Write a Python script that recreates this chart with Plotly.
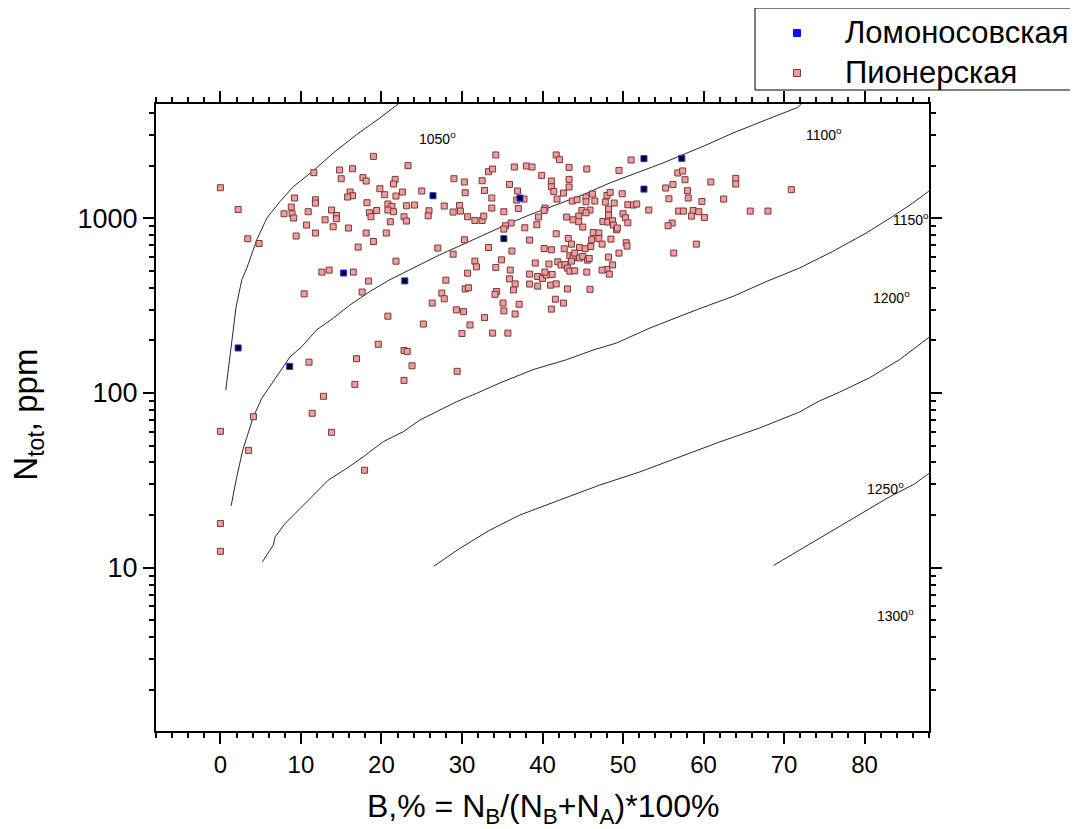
import numpy as np
import plotly.graph_objects as go

# ---------------- data ----------------
pink_x = [0.0, 2.2, 3.4, 4.8, 0.0, 4.1, 3.5, 0.0, 0.0, 10.4, 11.0, 12.8, 11.4, 13.8, 17.9, 16.7, 16.9, 19.6, 17.6, 18.4,
          20.8, 22.8, 23.2, 23.8, 22.8, 25.2, 29.4, 19.0, 23.3, 14.8, 16.4, 11.6, 15.0, 17.7, 18.1, 21.7, 21.5, 19.8, 16.1, 16.4,
          15.8, 20.4, 22.6, 21.8, 25.0, 29.0, 30.3, 32.5, 33.3, 30.4, 32.8, 9.2, 11.8, 11.8, 18.2, 20.8, 21.3, 23.1, 24.1, 27.8,
          29.7, 8.8, 13.8, 10.9, 7.9, 8.9, 9.1, 14.4, 14.4, 13.0, 18.5, 18.7, 19.4, 20.8, 21.5, 22.8, 23.1, 21.1, 25.9, 25.8,
          28.9, 29.8, 30.7, 31.6, 32.5, 32.7, 10.7, 14.0, 15.9, 9.4, 11.8, 18.1, 20.6, 19.0, 17.1, 30.3, 27.0, 33.3, 28.9, 21.8,
          31.6, 31.8, 12.6, 13.5, 16.5, 30.7, 28.0, 30.4, 30.8, 27.5, 27.8, 26.3, 29.3, 30.2, 34.2, 41.7, 42.1, 36.5, 38.0, 38.7,
          43.3, 45.5, 33.8, 51.0, 49.5, 39.9, 41.1, 43.3, 35.9, 41.1, 43.3, 36.9, 41.4, 42.6, 56.8, 57.4, 57.7, 56.2, 55.3, 58.0,
          60.9, 64.0, 64.0, 33.7, 36.8, 37.7, 37.0, 33.7, 35.2, 40.3, 40.2, 41.8, 43.7, 44.3, 45.4, 45.4, 46.2, 46.5, 48.0, 48.4,
          47.8, 48.9, 49.9, 48.2, 50.6, 51.3, 51.7, 55.7, 58.1, 59.8, 62.5, 44.9, 45.9, 45.4, 44.5, 43.0, 43.8, 48.2, 47.5, 48.1,
          48.7, 48.8, 49.2, 49.3, 50.0, 50.3, 50.6, 53.2, 56.9, 57.5, 58.7, 59.4, 58.5, 60.1, 65.8, 68.0, 56.1, 55.6, 39.5, 37.8,
          39.3, 36.1, 35.4, 35.2, 44.5, 45.0, 41.7, 43.2, 46.3, 47.0, 47.0, 46.1, 48.5, 38.4, 43.6, 40.2, 41.1, 42.7, 44.6, 45.3,
          46.0, 47.4, 50.4, 50.5, 49.5, 59.1, 56.3, 36.2, 34.9, 34.2, 36.0, 35.9, 36.6, 34.3, 34.1, 36.4, 35.1, 37.1, 39.1, 40.8,
          41.9, 42.3, 42.8, 43.4, 43.8, 44.0, 43.6, 43.1, 43.4, 44.0, 44.6, 45.0, 45.6, 45.8, 45.5, 48.2, 48.7, 48.0, 47.4, 48.3,
          38.4, 39.4, 40.0, 40.5, 41.2, 40.3, 38.4, 39.4, 41.0, 41.7, 43.1, 45.9, 41.6, 42.6, 41.1, 70.9, 35.2, 36.6, 32.8, 31.0,
          30.0, 33.8, 35.7]
pink_y = [1495, 1123, 763, 717, 60.3, 73.1, 46.9, 17.9, 12.4, 369, 150, 95.7, 76.5, 59.5, 36.1, 112, 157, 190, 378, 437,
          275, 175, 173, 143, 118, 248, 133, 2261, 2000, 1889, 1921, 1823, 1684, 1707, 1634, 1669, 1570, 1476, 1413, 1346,
          1323, 1364, 1413, 1340, 1432, 1684, 1613, 1640, 1847, 1400, 1443, 1306, 1276, 1222, 1227, 1206, 1169, 1179, 1190, 1175,
          1184, 1159, 1114, 1090, 1061, 1061, 1003, 1037, 993, 980, 1075, 1020, 1108, 1114, 1090, 1020, 964, 955, 1104, 1033,
          1085, 1099, 1020, 971, 971, 1029, 914, 894, 879, 791, 823, 823, 823, 736, 684, 753, 675, 680, 623, 568,
          568, 527, 492, 505, 492, 485, 442, 394, 400, 373, 346, 327, 299, 292, 2303, 2303, 2164, 1965, 1992, 1965,
          1955, 1914, 1914, 2156, 1879, 1759, 1634, 1669, 1562, 1515, 1510, 1432, 1424, 1394, 1816, 1865, 1662, 1562, 1490, 1438,
          1613, 1691, 1570, 1306, 1271, 1288, 1138, 1144, 1090, 1144, 1108, 1288, 1255, 1276, 1323, 1243, 1376, 1255, 1351, 1406,
          1238, 1222, 1381, 1129, 1195, 1190, 1206, 1293, 1306, 1248, 1288, 1108, 1114, 1075, 1029, 1016, 980, 1043, 959, 951,
          968, 914, 859, 879, 1061, 1007, 942, 1114, 1099, 1099, 1108, 1090, 1029, 1011, 1099, 1099, 939, 906, 1016, 882,
          918, 939, 906, 867, 955, 890, 815, 766, 829, 823, 766, 753, 760, 750, 711, 671, 660, 669, 680, 669,
          689, 711, 724, 693, 632, 711, 632, 649, 578, 523, 505, 450, 421, 381, 367, 389, 327, 322, 554, 547,
          563, 540, 544, 610, 596, 632, 568, 518, 498, 500, 592, 604, 576, 589, 492, 599, 541, 509, 505, 479,
          479, 464, 452, 473, 477, 492, 420, 409, 414, 421, 394, 392, 344, 327, 302, 1457, 295, 283, 270, 245,
          219, 220, 220]

blue_x = [2.2, 8.6, 15.3, 22.9, 26.4, 35.2, 37.2, 52.6, 52.6, 57.3]
blue_y = [181, 142, 486, 438, 1346, 764, 1305, 1469, 2193, 2203]

# isotherm lines
iso_1050_x = [0.67, 1.20, 1.95, 2.66, 3.28, 4.52, 5.76, 7.41, 9.06, 11.54, 14.02, 16.92, 19.81, 22.08]
iso_1050_y = [104, 161, 312, 445, 519, 753, 1002, 1248, 1517, 1871, 2366, 3013, 3751, 4510]

iso_1100_x = [1.33, 2.03, 2.78, 3.47, 4.09, 5.14, 7.00, 8.65, 10.10, 11.96, 14.02, 16.09, 18.57, 21.05, 22.70,
              24.77, 27.25, 29.74, 32.22, 35.94, 38.42, 41.74, 45.04, 48.35, 51.66, 54.96, 59.93, 63.65, 67.79,
              71.71, 72.17]
iso_1100_y = [22.6, 33.1, 47.1, 58.7, 73.1, 93.3, 124, 161, 184, 230, 268, 319, 381, 445, 486,
              542, 618, 696, 787, 938, 1047, 1195, 1363, 1592, 1817, 2072, 2578, 3074, 3664,
              4312, 4510]

iso_1150_x = [5.21, 6.58, 6.79, 8.03, 9.89, 11.54, 13.40, 15.68, 17.74, 20.22, 22.70, 24.78, 26.85, 29.33,
              31.81, 34.70, 38.83, 42.98, 46.28, 49.18, 53.31, 59.11, 63.65, 67.79, 71.92, 76.05, 80.20,
              83.50, 85.98, 88.05]
iso_1150_y = [10.8, 13.5, 15.0, 17.9, 21.8, 26.0, 31.7, 37.0, 43.1, 52.6, 60.0, 70.0, 78.1, 89.1,
              99.5, 114, 136, 155, 176, 193, 235, 299, 357, 434, 519, 646, 823,
              1024, 1222, 1438]

iso_1200_x = [26.52, 29.74, 33.46, 37.18, 42.15, 47.11, 52.07, 57.03, 61.99, 66.96, 71.92, 74.40, 76.88,
              80.60, 84.33, 88.05]
iso_1200_y = [10.2, 12.9, 16.4, 20.0, 24.4, 29.7, 35.3, 43.0, 52.4, 63.0, 77.8, 90.0, 101,
              122, 155, 209]

iso_1250_x = [68.70, 71.92, 75.64, 79.36, 83.08, 86.18, 88.05]
iso_1250_y = [10.3, 12.6, 15.8, 20.0, 25.4, 30.1, 34.8]

iso_labels = ["1050", "1100", "1150", "1200", "1250", "1300"]
iso_label_x = [26.9, 75.0, 85.8, 83.4, 82.6, 83.8]
iso_label_y = [2890, 3048, 993, 355, 28.6, 5.35]

series_names = ["Ломоносовская", "Пионерская"]
series_fill = ["#0010ff", "#f79a9a"]
series_edge = ["#0010ff", "#6e3c3c"]

x_ticks = [0, 10, 20, 30, 40, 50, 60, 70, 80]
y_ticks = [10, 100, 1000]
y_minor = [m * 10 ** e for e in range(0, 4) for m in range(2, 10) if m * 10 ** e < 4500]

FONT = "Liberation Sans, Arial, sans-serif"

# plot-area geometry (pixels)
W, H = 1070, 821
ML, MT, PW, PH = 148, 96, 773, 627


def px2paper(fx, fy):
    return (fx - ML) / PW, (MT + PH - fy) / PH


fig = go.Figure()

for xs, ys in [(iso_1050_x, iso_1050_y), (iso_1100_x, iso_1100_y), (iso_1150_x, iso_1150_y),
               (iso_1200_x, iso_1200_y), (iso_1250_x, iso_1250_y)]:
    fig.add_trace(go.Scatter(x=xs, y=ys, mode="lines", line=dict(color="#2a2a2a", width=1),
                             showlegend=False, hoverinfo="skip"))

fig.add_trace(go.Scatter(x=pink_x, y=pink_y, mode="markers", name=series_names[1], showlegend=False,
                         marker=dict(symbol="square", size=6, color="#f79a9a",
                                     line=dict(color="#6e3c3c", width=1))))
fig.add_trace(go.Scatter(x=blue_x, y=blue_y, mode="markers", name=series_names[0], showlegend=False,
                         marker=dict(symbol="square", size=6, color="#000010",
                                     line=dict(color="#2030ff", width=1))))

annotations = []
shapes = []
for t, lx, ly in zip(iso_labels, iso_label_x, iso_label_y):
    annotations.append(dict(x=lx, y=np.log10(ly), xref="x", yref="y", text=t + "<sup>o</sup>",
                            showarrow=False, font=dict(family=FONT, size=14, color="black")))

annotations.append(dict(x=0.5, y=-0.123, xref="paper", yref="paper",
                        text="B,% = N<sub>B</sub>/(N<sub>B</sub>+N<sub>A</sub>)*100%",
                        showarrow=False, font=dict(family=FONT, size=32, color="black"),
                        xanchor="center", yanchor="middle"))
annotations.append(dict(x=-0.166, y=0.504, xref="paper", yref="paper",
                        text="N<sub>tot</sub>, ppm", textangle=-90,
                        showarrow=False, font=dict(family=FONT, size=33, color="black"),
                        xanchor="center", yanchor="middle"))

# legend box (drawn by hand so that its size matches)
bx0, by0 = px2paper(747, 82)
bx1, by1 = px2paper(1085, 0)
shapes.append(dict(type="rect", xref="paper", yref="paper", x0=bx0, y0=by0, x1=bx1, y1=by1,
                   line=dict(color="black", width=1), fillcolor="white", layer="above"))
for i, (name, fc, ec) in enumerate(zip(series_names, series_fill, series_edge)):
    row_y = 25 + 40 * i
    mx, my = px2paper(789, row_y)
    hx, hy = 3.5 / PW, 3.5 / PH
    shapes.append(dict(type="rect", xref="paper", yref="paper", x0=mx - hx, x1=mx + hx,
                       y0=my - hy, y1=my + hy, fillcolor=fc, line=dict(color=ec, width=1),
                       layer="above"))
    tx, ty = px2paper(835, row_y)
    annotations.append(dict(x=tx, y=ty, xref="paper", yref="paper", text=name, showarrow=False,
                            xanchor="left", yanchor="middle",
                            font=dict(family=FONT, size=31, color="black")))

fig.update_layout(
    width=W, height=H,
    margin=dict(l=ML, r=W - ML - PW, t=MT, b=H - MT - PH),
    paper_bgcolor="white", plot_bgcolor="white",
    font=dict(family=FONT, color="black"),
    annotations=annotations, shapes=shapes,
    showlegend=False,
    xaxis=dict(range=[-8, 88], tickmode="array", tickvals=x_ticks,
               ticks="outside", ticklen=11, tickwidth=2, tickcolor="black",
               showline=True, linewidth=2, linecolor="black", mirror="ticks",
               showgrid=False, zeroline=False,
               tickfont=dict(family=FONT, size=24, color="black"),
               minor=dict(tickmode="linear", tick0=0, dtick=2, ticks="outside", ticklen=5,
                          tickwidth=2, tickcolor="black", showgrid=False)),
    yaxis=dict(type="log", range=[0.065, 3.654], tickmode="array", tickvals=y_ticks,
               ticktext=[str(v) for v in y_ticks],
               ticks="outside", ticklen=11, tickwidth=2, tickcolor="black",
               showline=True, linewidth=2, linecolor="black", mirror="ticks",
               showgrid=False, zeroline=False,
               tickfont=dict(family=FONT, size=27, color="black"),
               minor=dict(tickmode="array", tickvals=y_minor, ticks="outside", ticklen=5,
                          tickwidth=2, tickcolor="black", showgrid=False)),
)

fig.write_html("out.html")
